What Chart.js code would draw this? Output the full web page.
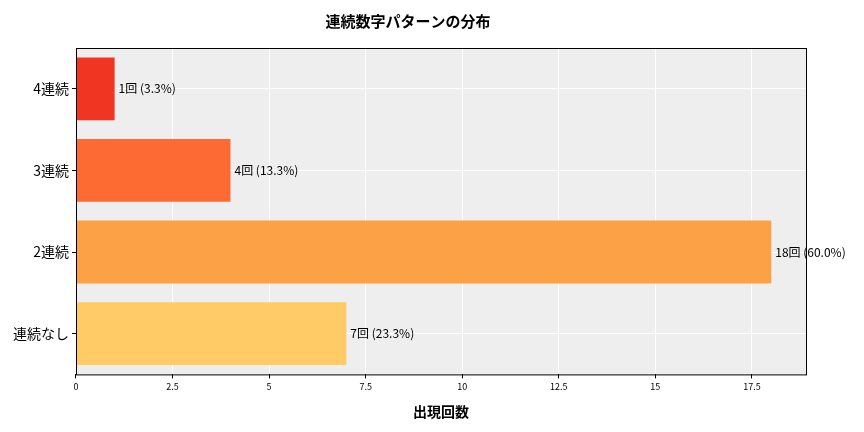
<!DOCTYPE html>
<html>
<head>
<meta charset="utf-8">
<script src="https://cdn.jsdelivr.net/npm/chart.js@4"></script>
<style>
  body { margin: 0; background: #fff; }
  #wrap { width: 864px; height: 432px; }
</style>
</head>
<body>
<div id="wrap"><canvas id="c"></canvas></div>
<script>
// data, top to bottom
const categories = ['4連続', '3連続', '2連続', '連続なし'];
const counts = [1, 4, 18, 7];
const percents = ['3.3', '13.3', '60.0', '23.3'];
const barColors = ['#f03523', '#fd6b33', '#fda146', '#fecb66'];
const xTicks = [0, 2.5, 5, 7.5, 10, 12.5, 15, 17.5];

const font = "'Noto Sans CJK JP', 'Noto Sans', sans-serif";

// grey plot background
const plotBg = {
  id: 'plotBg',
  beforeDraw(chart) {
    const { ctx, chartArea: a } = chart;
    ctx.save();
    ctx.fillStyle = '#eeeeee';
    ctx.fillRect(a.left, a.top, a.right - a.left, a.bottom - a.top);
    ctx.restore();
  }
};

// value labels at bar ends
const barLabels = {
  id: 'barLabels',
  afterDraw(chart) {
    const { ctx } = chart;
    const x = chart.scales.x, y = chart.scales.y;
    ctx.save();
    ctx.font = '12px ' + font;
    ctx.fillStyle = '#000';
    ctx.textBaseline = 'middle';
    counts.forEach((v, i) => {
      ctx.fillText(v + '回 (' + percents[i] + '%)', x.getPixelForValue(v) + 4, y.getPixelForValue(i));
    });
    // axis frame
    const a = chart.chartArea;
    ctx.strokeStyle = '#000';
    ctx.lineWidth = 1;
    ctx.strokeRect(a.left + 0.5, a.top + 0.5, a.right - a.left, a.bottom - a.top);
    ctx.restore();
  }
};

new Chart(document.getElementById('c'), {
  type: 'bar',
  data: {
    labels: categories,
    datasets: [{
      data: counts,
      backgroundColor: barColors,
      barPercentage: 0.77,
      categoryPercentage: 1.0
    }]
  },
  options: {
    indexAxis: 'y',
    responsive: true,
    maintainAspectRatio: false,
    animation: false,
    layout: { padding: { top: 4, right: 58, left: 10, bottom: 8 } },
    plugins: {
      legend: { display: false },
      tooltip: { enabled: false },
      title: {
        display: true,
        text: '連続数字パターンの分布',
        font: { family: font, size: 15, weight: 'bold' },
        color: '#000',
        padding: { top: 8, bottom: 18 }
      }
    },
    scales: {
      x: {
        min: 0,
        max: 18.9,
        z: 1,
        afterBuildTicks(axis) { axis.ticks = xTicks.map(v => ({ value: v })); },
        grid: { color: '#ffffff', lineWidth: 1, drawTicks: true, tickColor: '#000', tickLength: 4 },
        border: { display: false },
        ticks: { font: { family: font, size: 9 }, color: '#000', maxRotation: 0, padding: 3 },
        title: {
          display: true,
          text: '出現回数',
          font: { family: font, size: 14, weight: 'bold' },
          color: '#000',
          padding: { top: 8 }
        }
      },
      y: {
        z: 1,
        grid: { color: '#ffffff', lineWidth: 1, offset: false, tickColor: '#000', tickLength: 4 },
        border: { display: false },
        ticks: { font: { family: font, size: 14 }, color: '#000', padding: 3 }
      }
    }
  },
  plugins: [plotBg, barLabels]
});
</script>
</body>
</html>
